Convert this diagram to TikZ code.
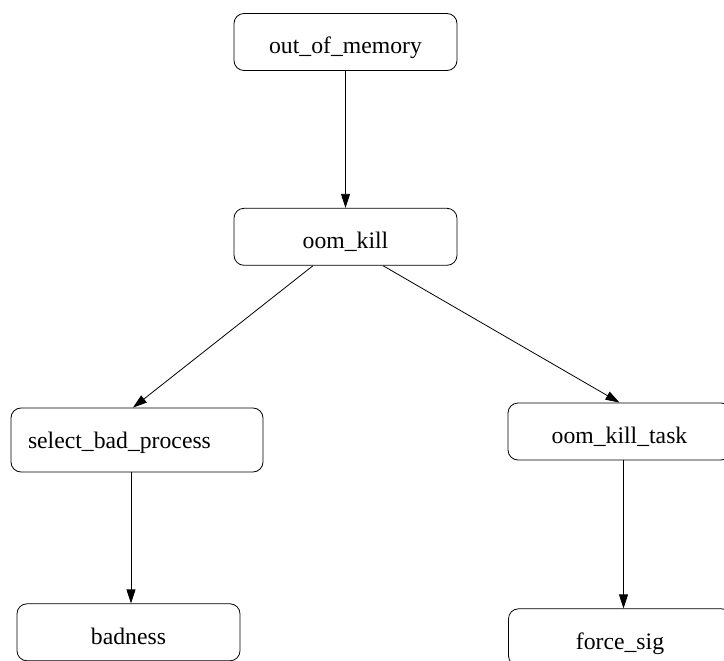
\documentclass[tikz,border=0pt]{standalone}
\usepackage{fontspec}
\setmainfont{Liberation Serif}
\usetikzlibrary{positioning,arrows.meta}

\begin{document}
\begin{tikzpicture}[x=1pt,y=-1pt]
	\useasboundingbox (0,0) rectangle (724,661);
	\begin{scope}[every node/.style={draw, rounded corners=10pt, line width=0.8pt, minimum width=223pt, minimum height=57pt, text height=24pt, text depth=0pt, font=\fontsize{23.7}{28}\selectfont}]
	    \node (mem) at (345.5,42) {out\_of\_memory};
	    \node[below = 137pt of mem] (kill) {oom\_kill};
	    \node[minimum width=252pt, minimum height=64pt, text width=218pt, inner xsep=17pt, text height=16pt, align=left] (sel) at (137,440) {select\_bad\_process};
	    \node (task) at (619.5,431.5) {oom\_kill\_task};
	    \node[below = 131pt of sel, xshift=-8.5pt] (bad) {badness};
	    \node[below = 148pt of task, xshift=0.5pt] (force) {force\_sig};
	\end{scope}

	\path [-{Triangle[length=14pt,width=9pt]}, line width=0.8pt] (mem) edge (kill);
	\path [-{Triangle[length=14pt,width=9pt]}, line width=0.8pt] ([xshift=-32.5pt]kill.south) edge ([xshift=-4pt]sel.north);
	\path [-{Triangle[length=14pt,width=9pt]}, line width=0.8pt] ([xshift=37.5pt]kill.south) edge (task.north);
	\path [-{Triangle[length=14pt,width=9pt]}, line width=0.8pt] ([xshift=-6pt]sel.south) edge ([xshift=2.5pt]bad.north);
	\path [-{Triangle[length=14pt,width=9pt]}, line width=0.8pt] ([xshift=4pt]task.south) edge ([xshift=3.5pt]force.north);

\end{tikzpicture}
\end{document}
